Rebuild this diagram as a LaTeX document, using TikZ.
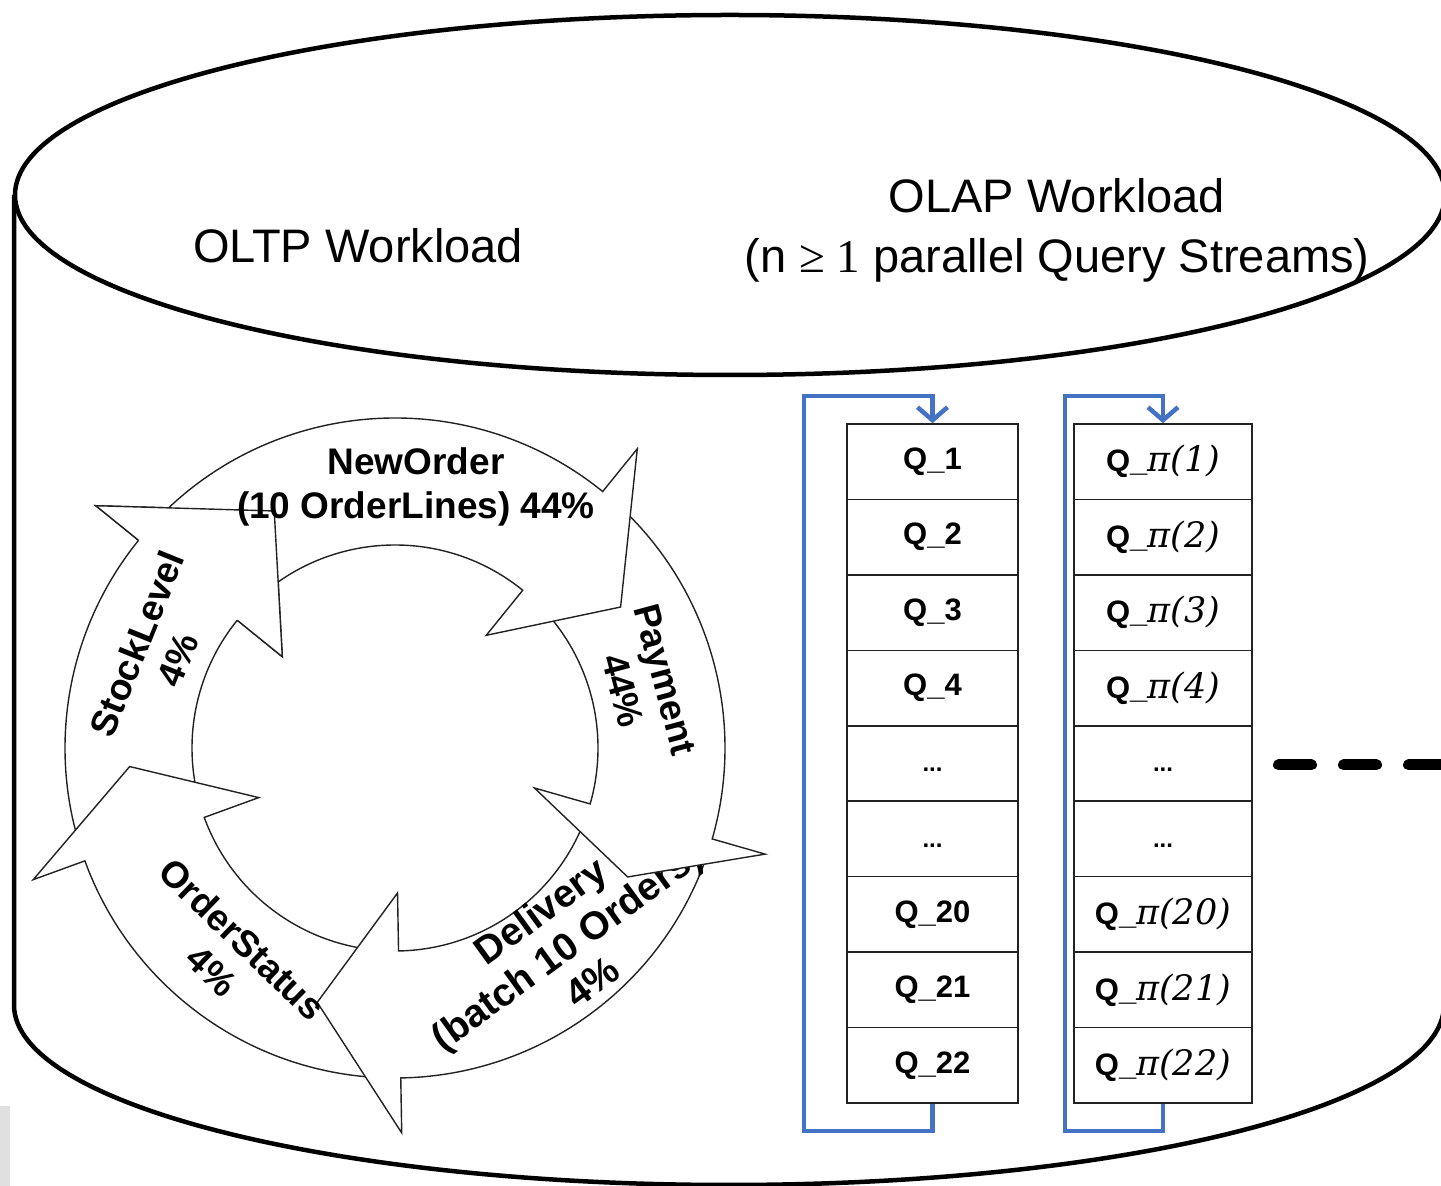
\documentclass[tikz,border=0pt]{standalone}
\usepackage{fontspec}
\setmainfont{Liberation Sans}
\newfontfamily\symserif{Liberation Serif}
\newfontfamily\piserif{DejaVu Serif}
\usetikzlibrary{arrows.meta}
\definecolor{loopblue}{HTML}{4472C4}
\definecolor{edgegray}{HTML}{222222}
\definecolor{stripgray}{HTML}{E0E0E0}

% ring geometry (centre, band radii, barb radii, tip radius)
\def\cx{395}\def\cy{438}
\def\Ro{330}\def\Ri{203}\def\Rob{385}\def\Rib{145}\def\Rt{266}
\newcommand\rp[2]{({\cx+#2*cos(#1)},{\cy+#2*sin(#1)})}
% #1 tail angle, #2 head base angle, #3 tip angle
\newcommand\ringarrow[3]{%
  \path[ringshape] \rp{#1}{\Ro} arc[start angle=#1,end angle=#2,radius=\Ro]
    -- \rp{#2}{\Rob} -- \rp{#3}{\Rt} -- \rp{#2}{\Rib} -- \rp{#2}{\Ri}
    arc[start angle=#2,end angle=#1,radius=\Ri] -- cycle;}
\newcommand\pilab[1]{Q\_{\piserif\mdseries\itshape\fontsize{35}{38}\selectfont π(#1)}}

\begin{document}
\begin{tikzpicture}[x=1pt,y=1pt,
  cylline/.style={line width=4.5pt,draw=black},
  ringshape/.style={fill=white,draw=edgegray,line width=1.4pt,line join=miter},
  ringtext/.style={font=\bfseries\fontsize{37}{44}\selectfont,align=center,inner sep=0pt},
  titletext/.style={font=\fontsize{47}{60}\selectfont,align=center,inner sep=0pt},
  qcell/.style={draw=edgegray,line width=1.6pt,minimum height=75.44pt,inner sep=0pt,
                font=\bfseries\fontsize{31}{36}\selectfont},
  streamloop/.style={draw=loopblue,line width=4.5pt},
  looptip/.style={-{Straight Barb[length=13pt,width=30pt]}}]
\useasboundingbox (0,0) rectangle (1441,1186);
\clip (0,0) rectangle (1441,1186);

% database cylinder
\draw[cylline] (730,991) ellipse[x radius=715,y radius=180];
\draw[cylline] (14,991) -- (14,181) arc[start angle=180,end angle=360,x radius=715,y radius=180] -- (1445,991);
\fill[stripgray] (0,0) rectangle (10,80);

% workload titles
\node[titletext] (oltp) at (358,940) {OLTP Workload};
\node[titletext] (olap) at (1057,956) {OLAP Workload\\(n {\symserif ≥ 1} parallel Query Streams)};

% transaction mix cycle
\ringarrow{-162}{-219}{-243}
\ringarrow{-91}{-160}{-176}
\ringarrow{-18}{-89}{-107}
\node[ringtext,font=\bfseries\fontsize{39}{44}\selectfont,rotate=36] (t3) at (566,240) {Delivery\\(batch 10 Orders)\\4\%};
\ringarrow{49}{-16}{-29}
\ringarrow{139}{51}{32}
% StockLevel head lies over the NewOrder tail
\fill[white] \rp{-219}{\Rob} -- \rp{-243}{\Rt} -- \rp{-219}{\Rib} -- cycle;
\draw[edgegray,line width=1.4pt,line join=miter] \rp{-219}{\Ro} -- \rp{-219}{\Rob} -- \rp{-243}{\Rt} -- \rp{-219}{\Rib} -- \rp{-219}{\Ri};
\node[ringtext] (t1) at (416,699) {NewOrder\\(10 OrderLines) 44\%};
\node[ringtext,rotate=-75] (t2) at (644,501) {Payment\\44\%};
\node[ringtext,rotate=-44] (t4) at (227,231) {OrderStatus\\4\%};
\node[ringtext,rotate=68] (t5) at (157,534) {StockLevel\\4\%};

% query streams
\def\qdots{{\rule{0pt}{17pt}\fontsize{24}{26}\selectfont ...}}
\foreach \row/\lab in {1/Q\_1,2/Q\_2,3/Q\_3,4/Q\_4,5/\qdots,6/\qdots,7/Q\_20,8/Q\_21,9/Q\_22}
  \node[qcell,minimum width=171pt] (L\row) at (932.5,{762-75.44*(\row-0.5)}) {\lab};
\foreach \row/\lab in {1/\pilab{1},2/\pilab{2},3/\pilab{3},4/\pilab{4},5/\qdots,6/\qdots,7/\pilab{20},8/\pilab{21},9/\pilab{22}}
  \node[qcell,minimum width=178pt] (R\row) at (1163,{762-75.44*(\row-0.5)}) {\lab};

\coordinate (lb) at (804,55);
\coordinate (lt) at (804,790);
\coordinate (rb) at (1065,55);
\coordinate (rt) at (1065,790);
\draw[streamloop,looptip] (L9.south) |- (lb) -- (lt) -| (L1.north);
\draw[streamloop,looptip] (R9.south) |- (rb) -- (rt) -| (R1.north);

% further streams
\coordinate (ds) at (1278.5,421);
\coordinate (de) at (1460,421);
\draw[line width=11pt,line cap=round,dash pattern=on 33pt off 32pt] (ds) -- (de);
\end{tikzpicture}
\end{document}
